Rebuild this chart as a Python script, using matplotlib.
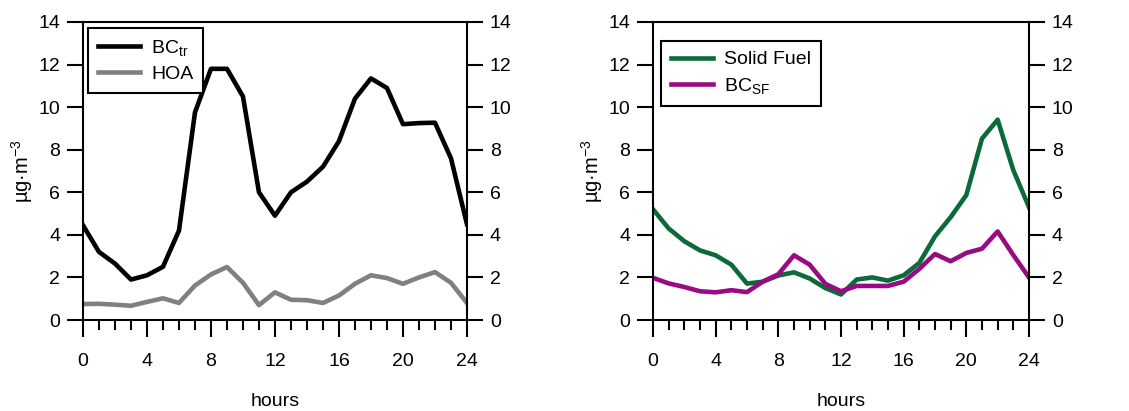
import matplotlib.pyplot as plt
from matplotlib.ticker import MultipleLocator

plt.rcParams['font.family'] = ['Liberation Sans', 'DejaVu Sans']
plt.rcParams['mathtext.fontset'] = 'custom'
plt.rcParams['mathtext.rm'] = 'Liberation Sans'
plt.rcParams['mathtext.it'] = 'Liberation Sans'

# hourly diurnal profiles
hours = list(range(25))
bc_tr = [4.45, 3.2, 2.65, 1.9, 2.1, 2.5, 4.2, 9.75, 11.8, 11.8, 10.5, 6.0, 4.9,
         6.0, 6.5, 7.2, 8.4, 10.4, 11.35, 10.9, 9.2, 9.25, 9.27, 7.6, 4.5]
hoa = [0.75, 0.76, 0.72, 0.67, 0.85, 1.02, 0.8, 1.62, 2.14, 2.49, 1.75, 0.7, 1.3,
       0.95, 0.93, 0.8, 1.15, 1.7, 2.1, 1.97, 1.7, 2.0, 2.25, 1.75, 0.8]
solid_fuel = [5.2, 4.3, 3.7, 3.27, 3.04, 2.6, 1.71, 1.8, 2.09, 2.24, 1.95, 1.5, 1.2,
              1.9, 2.0, 1.85, 2.1, 2.68, 3.93, 4.83, 5.87, 8.52, 9.41, 7.04, 5.3]
bc_sf = [1.98, 1.72, 1.55, 1.35, 1.3, 1.4, 1.31, 1.8, 2.15, 3.04, 2.6, 1.7, 1.35,
         1.6, 1.6, 1.6, 1.8, 2.4, 3.1, 2.76, 3.15, 3.35, 4.16, 3.05, 2.0]

fig = plt.figure(figsize=(11.29, 4.11), dpi=100)
ax1 = fig.add_axes([0.0735, 0.2214, 0.3401, 0.7251])
ax2 = fig.add_axes([0.5784, 0.2214, 0.3330, 0.7251])

ax1.plot(hours, bc_tr, color='black', lw=3.3, label=r'BC$_\mathregular{tr}$')
ax1.plot(hours, hoa, color='#808080', lw=3.3, label='HOA')
ax2.plot(hours, solid_fuel, color='#0a6a3a', lw=3.3, label='Solid Fuel')
ax2.plot(hours, bc_sf, color='#980b82', lw=3.3, label=r'BC$_\mathregular{SF}$')

leg_pos = {ax1: (0.013, 0.98), ax2: (0.021, 0.936)}

for ax in (ax1, ax2):
    ax.set_xlim(0, 24)
    ax.set_ylim(0, 14)
    ax.xaxis.set_major_locator(MultipleLocator(4))
    ax.xaxis.set_minor_locator(MultipleLocator(1))
    ax.yaxis.set_major_locator(MultipleLocator(2))
    for s in ax.spines.values():
        s.set_linewidth(1.5)
    ax.tick_params(axis='y', which='major', direction='out', length=11.5, width=1.5,
                   left=True, right=True, labelleft=True, labelright=True,
                   labelsize=14, pad=5)
    ax.tick_params(axis='x', which='major', direction='out', length=12, width=1.5,
                   labelsize=14, pad=12)
    ax.tick_params(axis='x', which='minor', direction='out', length=7, width=1.5)
    ax.set_xlabel('hours', fontsize=14, labelpad=16)
    ax.set_ylabel(r'µg·m$^\mathregular{-3}$', fontsize=14.5, labelpad=2)
    leg = ax.legend(loc='upper left', fontsize=14, fancybox=False, framealpha=1,
                    edgecolor='black', handlelength=2.2, borderpad=0.5,
                    labelspacing=0.4, handletextpad=0.55, borderaxespad=0,
                    bbox_to_anchor=leg_pos[ax])
    leg.get_frame().set_linewidth(1.5)

fig.savefig('out.png', dpi=100)
plt.close()
